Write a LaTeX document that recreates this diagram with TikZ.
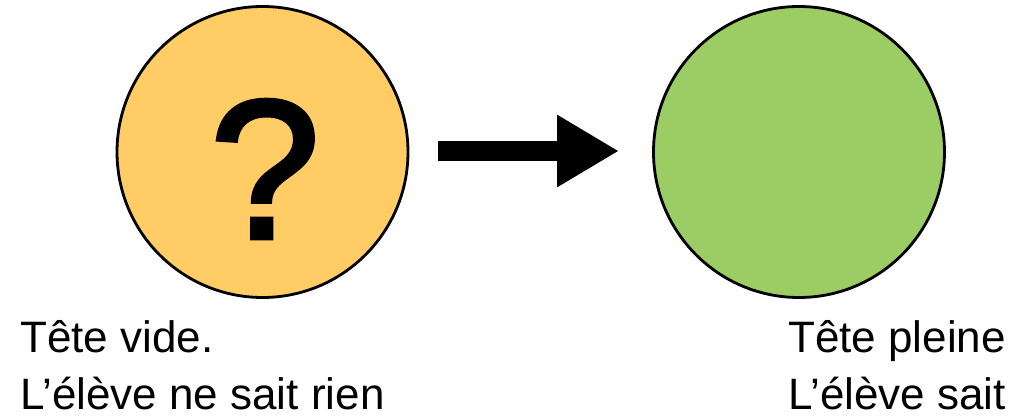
\documentclass[tikz,border=0pt]{standalone}
\usepackage{fontspec}
\setmainfont{Liberation Sans}
\newfontfamily\markfont[FakeBold=2.2]{Liberation Sans}
\usetikzlibrary{arrows.meta}
\definecolor{headempty}{HTML}{FFCC66}
\definecolor{headfull}{HTML}{9CCC64}
\begin{document}
\begin{tikzpicture}[x=1pt,y=-1pt,
  head/.style={circle, draw=black, line width=2.8pt, minimum size=291pt, inner sep=0pt},
  caption/.style={anchor=base west, inner sep=0pt, font=\fontsize{44}{52}\selectfont},
  flow/.style={line width=20pt, -{Triangle[length=62pt,width=68pt]}}]
\useasboundingbox (0,0) rectangle (1018,417);
\node[head, fill=headempty] (empty) at (262.5,152) {};
\node[head, fill=headfull] (full) at (799,152) {};
\node[font=\fontsize{198}{198}\markfont] (mark) at (265,169) {?};
\coordinate (from) at (438,151);
\coordinate (to) at (619,151);
\draw[flow] (from) -- (to);
\node[caption] (c1) at (20,352) {Tête vide.};
\node[caption] (c2) at (20,409) {L’élève ne sait rien};
\node[caption] (c3) at (788,352) {Tête pleine};
\node[caption] (c4) at (788,409) {L’élève sait};
\end{tikzpicture}
\end{document}
